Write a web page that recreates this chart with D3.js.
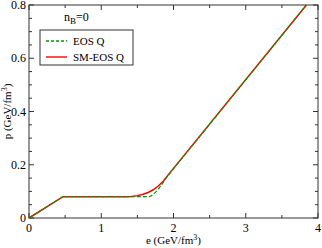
<!DOCTYPE html>
<html>
<head>
<meta charset="utf-8">
<script src="https://cdn.jsdelivr.net/npm/d3@7"></script>
<style>
body { margin: 0; background: #fff; }
text { font-family: "Liberation Serif", "Times New Roman", serif; fill: #000; }
</style>
</head>
<body>
<div id="chart"></div>
<script>
// data
eosQ = [[0, 0], [0.47, 0.08], [1.66, 0.08], [1.69, 0.083], [1.72, 0.089], [1.76, 0.099], [1.8, 0.112], [1.85, 0.13], [1.9, 0.151], [1.95, 0.168], [3.84, 0.8]];
smEosQ = [[0, 0], [0.47, 0.08], [1.35, 0.08], [1.42, 0.081], [1.5, 0.084], [1.58, 0.089], [1.65, 0.096], [1.72, 0.106], [1.79, 0.12], [1.86, 0.139], [1.93, 0.163], [3.84, 0.8]];
xTicks = [0, 1, 2, 3, 4];
yTicks = [0, 0.2, 0.4, 0.6, 0.8];
yTickLabels = ["0", "0.2", "0.4", "0.6", "0.8"];

width = 322;
height = 248;
margin = {left: 29, right: 4, top: 5, bottom: 30};

svg = d3.select("#chart").append("svg")
    .attr("width", width)
    .attr("height", height);

x = d3.scaleLinear().domain([0, 4]).range([margin.left, width - margin.right]);
y = d3.scaleLinear().domain([0, 0.8]).range([height - margin.bottom, margin.top]);

x0 = x.range()[0]; x1 = x.range()[1];
y0 = y.range()[0]; y1 = y.range()[1];

// frame with inward ticks on all sides
frame = svg.append("g").attr("stroke", "#333").attr("stroke-width", 1);
frame.append("rect")
    .attr("x", x0).attr("y", y1)
    .attr("width", x1 - x0).attr("height", y0 - y1)
    .attr("fill", "none");

xMinor = d3.range(0, 4.001, 0.5);
yMinor = d3.range(0, 0.8001, 0.05);
xMinor.forEach((v) => {
    len = (Math.abs(v - Math.round(v)) < 1e-6) ? 5 : 3;
    frame.append("line").attr("x1", x(v)).attr("x2", x(v)).attr("y1", y0).attr("y2", y0 - len);
    frame.append("line").attr("x1", x(v)).attr("x2", x(v)).attr("y1", y1).attr("y2", y1 + len);
});
yMinor.forEach((v) => {
    len = (Math.abs(v / 0.2 - Math.round(v / 0.2)) < 1e-6) ? 5 : 3;
    frame.append("line").attr("y1", y(v)).attr("y2", y(v)).attr("x1", x0).attr("x2", x0 + len);
    frame.append("line").attr("y1", y(v)).attr("y2", y(v)).attr("x1", x1).attr("x2", x1 - len);
});

// tick labels
svg.selectAll(".xl").data(xTicks).enter().append("text")
    .attr("x", (d) => x(d))
    .attr("y", y0 + 14)
    .attr("text-anchor", "middle")
    .style("font-size", "12px")
    .text((d) => d);
svg.selectAll(".yl").data(yTicks).enter().append("text")
    .attr("x", x0 - 3)
    .attr("y", (d) => y(d) + 4)
    .attr("text-anchor", "end")
    .style("font-size", "12px")
    .text((d, i) => yTickLabels[i]);

// axis titles
xt = svg.append("text")
    .attr("x", (x0 + x1) / 2)
    .attr("y", height - 4)
    .attr("text-anchor", "middle")
    .style("font-size", "11px");
xt.append("tspan").text("e (GeV/fm");
xt.append("tspan").attr("dy", -4).style("font-size", "8px").text("3");
xt.append("tspan").attr("dy", 4).text(")");

yt = svg.append("text")
    .attr("transform", "translate(11," + ((y0 + y1) / 2) + ") rotate(-90)")
    .attr("text-anchor", "middle")
    .style("font-size", "11px");
yt.append("tspan").text("p (GeV/fm");
yt.append("tspan").attr("dy", -4).style("font-size", "8px").text("3");
yt.append("tspan").attr("dy", 4).text(")");

// curves
line = d3.line().x((d) => x(d[0])).y((d) => y(d[1])).curve(d3.curveLinear);
svg.append("path").datum(smEosQ)
    .attr("d", line)
    .attr("fill", "none")
    .attr("stroke", "#ff0000")
    .attr("stroke-width", 1.5);
svg.append("path").datum(eosQ)
    .attr("d", line)
    .attr("fill", "none")
    .attr("stroke", "#009a00")
    .attr("stroke-width", 1.2)
    .attr("stroke-dasharray", "4,2");

// n_B label
nb = svg.append("text")
    .attr("x", 64).attr("y", 21)
    .style("font-size", "12px");
nb.append("tspan").text("n");
nb.append("tspan").attr("dy", 3).style("font-size", "9px").text("B");
nb.append("tspan").attr("dy", -3).text("=0");

// legend
legend = svg.append("g");
legend.append("rect")
    .attr("x", 40).attr("y", 30)
    .attr("width", 93).attr("height", 35)
    .attr("fill", "#fff")
    .attr("stroke", "#333");
legendItems = [["EOS Q", "#009a00", "3,2"], ["SM-EOS Q", "#ff0000", null]];
legendItems.forEach((d, i) => {
    ly = 41 + i * 16;
    l = legend.append("line")
        .attr("x1", 46).attr("x2", 67)
        .attr("y1", ly).attr("y2", ly)
        .attr("stroke", d[1])
        .attr("stroke-width", 1.4);
    if (d[2]) l.attr("stroke-dasharray", d[2]);
    legend.append("text")
        .attr("x", 73).attr("y", ly + 4)
        .style("font-size", "11px")
        .text(d[0]);
});
</script>
</body>
</html>
